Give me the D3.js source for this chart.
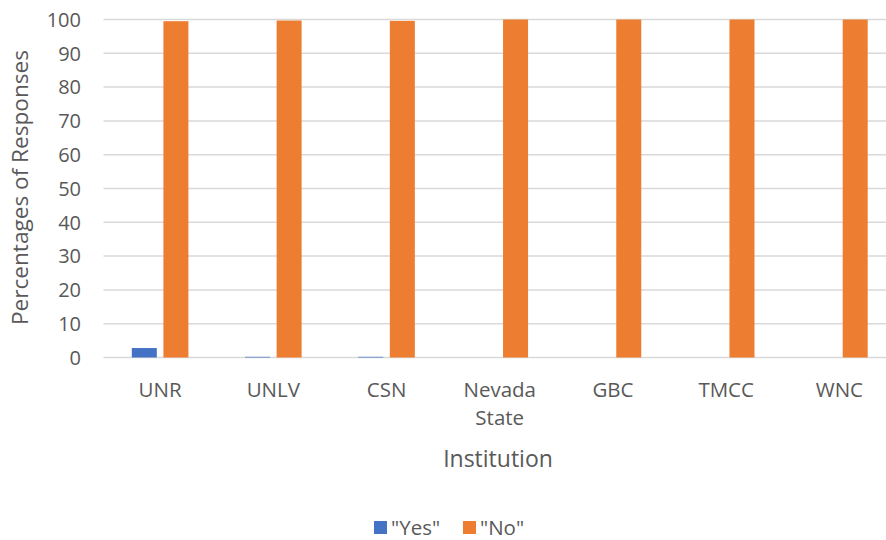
<!DOCTYPE html>
<html><head><meta charset="utf-8">
<script src="https://cdn.jsdelivr.net/npm/d3@7"></script>
<style>body{margin:0;background:#fff;} svg{display:block;font-family:"Open Sans",sans-serif;}</style>
</head><body>
<svg id="c" width="886" height="540"></svg>
<script>
const categories = ["UNR","UNLV","CSN","Nevada State","GBC","TMCC","WNC"];
const yesValues = [2.8,0.2,0.2,0,0,0,0];
const noValues = [99.5,99.7,99.6,100,100,100,100];
const yTicks = [0,10,20,30,40,50,60,70,80,90,100];
const seriesNames = ['"Yes"','"No"'];
const colors = ["#4472C4","#ED7D31"];

const svg = d3.select("#c");
const pL = 103.5, pR = 896, pT = 19.5, pB = 357.5;
const x = d3.scaleBand().domain(categories).range([pL,pR]);
const y = d3.scaleLinear().domain([0,100]).range([pB,pT]);
const barW = 25, gap = 6.6;

// gridlines
svg.append("g").selectAll("line").data(yTicks).join("line")
  .attr("x1",pL).attr("x2",pR)
  .attr("y1",d=>y(d)).attr("y2",d=>y(d))
  .attr("stroke","#D9D9D9").attr("stroke-width",1.5);

// y tick labels
svg.append("g").selectAll("text").data(yTicks).join("text")
  .attr("x",81).attr("y",d=>y(d)).attr("dy","0.36em")
  .attr("text-anchor","end").attr("font-size",20).attr("fill","#595959")
  .text(d=>d);

const data = categories.map((c,i)=>({c,yes:yesValues[i],no:noValues[i]}));
const g = svg.append("g");
g.selectAll("rect.yes").data(data).join("rect").attr("class","yes")
  .attr("x",d=>x(d.c)+x.bandwidth()/2-gap/2-barW)
  .attr("width",barW)
  .attr("y",d=>y(d.yes)).attr("height",d=>pB-y(d.yes))
  .attr("fill",colors[0]);
g.selectAll("rect.no").data(data).join("rect").attr("class","no")
  .attr("x",d=>x(d.c)+x.bandwidth()/2+gap/2)
  .attr("width",barW)
  .attr("y",d=>y(d.no)).attr("height",d=>pB-y(d.no))
  .attr("fill",colors[1]);

// category labels
const cl = svg.append("g").selectAll("text").data(categories).join("text")
  .attr("text-anchor","middle").attr("font-size",20.5).attr("fill","#595959")
  .attr("x",d=>x(d)+x.bandwidth()/2).attr("y",396.5);
cl.each(function(d){
  const words = d.split(" ");
  const t = d3.select(this);
  words.forEach((w,i)=>{
    t.append("tspan").attr("x",x(d)+x.bandwidth()/2).attr("dy",i===0?0:28.5).text(w);
  });
});

// axis titles
svg.append("text").attr("transform","translate(28,187.5) rotate(-90)")
  .attr("text-anchor","middle").attr("font-size",22.6).attr("fill","#595959")
  .text("Percentages of Responses");
svg.append("text").attr("x",498).attr("y",466.5)
  .attr("text-anchor","middle").attr("font-size",23).attr("fill","#595959")
  .text("Institution");

// legend
const lg = svg.append("g");
const lx = [374,463];
seriesNames.forEach((n,i)=>{
  lg.append("rect").attr("x",lx[i]).attr("y",521).attr("width",13).attr("height",13).attr("fill",colors[i]);
  lg.append("text").attr("x",lx[i]+17).attr("y",535).attr("font-size",20.5).attr("fill","#595959").text(n);
});
</script>
</body></html>
